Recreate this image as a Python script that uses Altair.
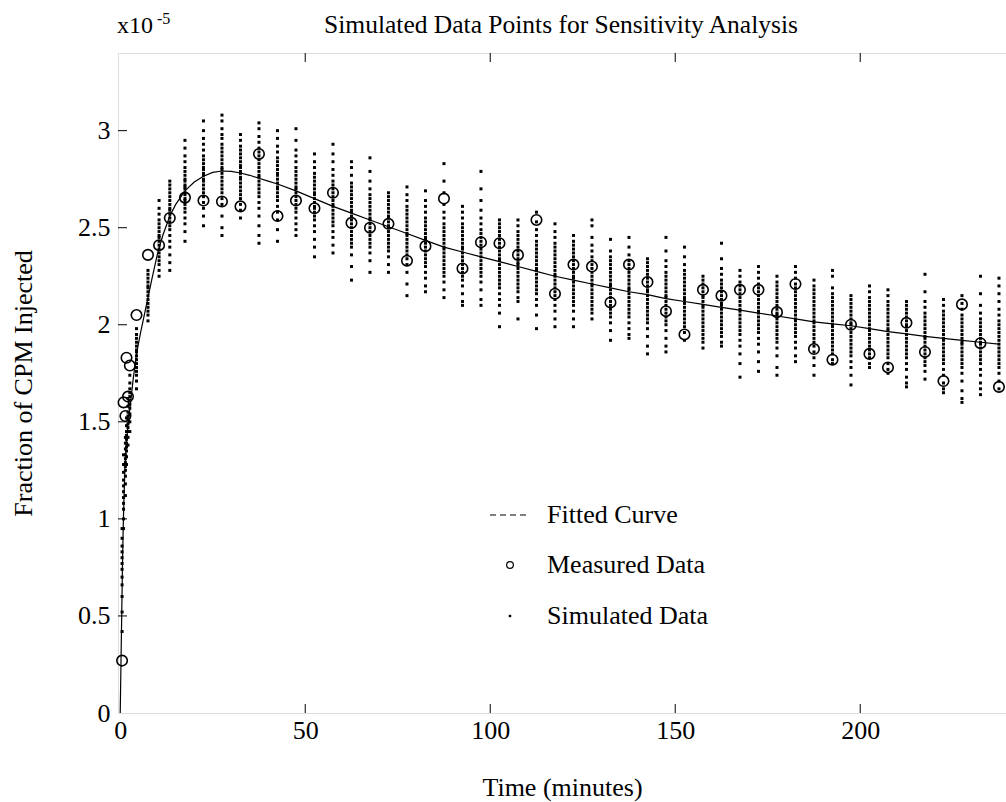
import altair as alt
import pandas as pd

FONT = "Liberation Serif"

# ---------------- data (units of 1e-5) ----------------
fit_t = [0, 0.2, 0.4, 0.6, 0.8, 1.0, 1.3, 1.7, 2.2, 2.8, 3.5, 4.5, 5.5, 6.5, 7.5, 8.5,
         10, 11.5, 13.4, 15, 17.5, 20, 22.5, 25, 27.5, 30, 32.5, 35, 37.5, 40, 42.5,
         47.5, 52.5, 57.5, 62.5, 67.5, 72.5, 77.5, 82.5, 87.5, 92.5, 97.5, 102.5,
         107.5, 112.5, 117.5, 122.5, 127.5, 132.5, 137.5, 142.5, 147.5, 152.5, 157.5,
         162.5, 167.5, 172.5, 177.5, 182.5, 187.5, 192.5, 197.5, 202.5, 207.5, 212.5,
         217.5, 222.5, 227.5, 232.5, 237.5]
fit_v = [0, 0.25, 0.5, 0.75, 0.95, 1.1, 1.27, 1.4, 1.5, 1.6, 1.72, 1.86, 1.96, 2.05, 2.14, 2.23,
         2.36, 2.46, 2.56, 2.62, 2.69, 2.735, 2.765, 2.785, 2.792, 2.79, 2.782, 2.77, 2.755, 2.74, 2.725,
         2.69, 2.65, 2.61, 2.575, 2.54, 2.505, 2.47, 2.435, 2.40, 2.375, 2.35, 2.325,
         2.30, 2.275, 2.25, 2.23, 2.21, 2.19, 2.17, 2.155, 2.135, 2.12, 2.105,
         2.09, 2.075, 2.06, 2.045, 2.03, 2.015, 2.005, 1.995, 1.98, 1.965, 1.953,
         1.94, 1.93, 1.92, 1.91, 1.90]

meas_t = [0.5, 0.9, 1.4, 1.7, 2.1, 2.6, 4.4, 7.5, 10.5, 13.4, 17.5, 22.5, 27.5, 32.5, 37.5,
          42.5, 47.5, 52.5, 57.5, 62.5, 67.5, 72.5, 77.5, 82.5, 87.5, 92.5, 97.5, 102.5,
          107.5, 112.5, 117.5, 122.5, 127.5, 132.5, 137.5, 142.5, 147.5, 152.5, 157.5,
          162.5, 167.5, 172.5, 177.5, 182.5, 187.5, 192.5, 197.5, 202.5, 207.5, 212.5,
          217.5, 222.5, 227.5, 232.5, 237.5]
meas_v = [0.27, 1.60, 1.53, 1.83, 1.63, 1.79, 2.05, 2.36, 2.41, 2.55, 2.655, 2.64, 2.635, 2.61, 2.88,
          2.56, 2.64, 2.60, 2.68, 2.525, 2.50, 2.52, 2.33, 2.405, 2.65, 2.29, 2.425, 2.42,
          2.36, 2.54, 2.16, 2.31, 2.30, 2.115, 2.31, 2.22, 2.07, 1.95, 2.18,
          2.15, 2.18, 2.18, 2.065, 2.21, 1.875, 1.82, 2.00, 1.85, 1.78, 2.01,
          1.86, 1.71, 2.105, 1.905, 1.68]

# simulated values, one column per measured time
sim_cols = [
    [0.95, 0.9, 0.86, 0.83, 0.8, 0.77, 0.74, 0.7, 0.66, 0.6, 0.52, 0.42],
    [1.33, 1.28, 1.24, 1.2, 1.17, 1.14, 1.11, 1.08, 1.05, 1.0, 0.95],
    [1.42, 1.39, 1.36, 1.33, 1.31, 1.29, 1.27, 1.25, 1.22, 1.18, 1.12],
    [1.52, 1.48, 1.45, 1.43, 1.41, 1.39, 1.37, 1.35, 1.32, 1.28],
    [1.62, 1.58, 1.55, 1.53, 1.51, 1.49, 1.47, 1.45, 1.42, 1.38],
    [1.74, 1.70, 1.67, 1.65, 1.63, 1.61, 1.59, 1.57, 1.54, 1.50, 1.45],
    [1.98, 1.95, 1.93, 1.91, 1.89, 1.87, 1.86, 1.84, 1.82, 1.80, 1.78, 1.76, 1.74, 1.71, 1.67],
    [2.28, 2.26, 2.24, 2.22, 2.20, 2.19, 2.17, 2.15, 2.13, 2.11, 2.09, 2.07, 2.05, 2.02],
    [2.64, 2.60, 2.57, 2.54, 2.52, 2.50, 2.48, 2.46, 2.45, 2.43, 2.41, 2.39, 2.37, 2.35, 2.33, 2.31, 2.28, 2.25],
    [2.74, 2.72, 2.70, 2.68, 2.66, 2.64, 2.62, 2.60, 2.59, 2.57, 2.55, 2.53, 2.51, 2.49, 2.46, 2.43, 2.40, 2.36, 2.32, 2.28],
    [2.95, 2.91, 2.87, 2.84, 2.81, 2.79, 2.77, 2.75, 2.74, 2.72, 2.71, 2.70, 2.68, 2.67, 2.65, 2.64, 2.62, 2.60, 2.58, 2.55, 2.52, 2.48, 2.43],
    [3.05, 3.00, 2.96, 2.93, 2.90, 2.87, 2.85, 2.83, 2.81, 2.80, 2.78, 2.77, 2.75, 2.74, 2.72, 2.70, 2.68, 2.66, 2.63, 2.60, 2.56, 2.51],
    [3.08, 3.05, 3.01, 2.98, 2.96, 2.93, 2.91, 2.89, 2.87, 2.85, 2.83, 2.81, 2.80, 2.78, 2.76, 2.74, 2.72, 2.70, 2.68, 2.65, 2.62, 2.56, 2.50, 2.46],
    [2.98, 2.95, 2.92, 2.90, 2.88, 2.86, 2.84, 2.82, 2.81, 2.79, 2.78, 2.76, 2.75, 2.73, 2.71, 2.69, 2.67, 2.65, 2.62, 2.59, 2.55],
    [3.04, 3.01, 2.97, 2.94, 2.91, 2.89, 2.87, 2.85, 2.83, 2.81, 2.79, 2.77, 2.76, 2.74, 2.72, 2.70, 2.68, 2.66, 2.63, 2.60, 2.56, 2.51, 2.46, 2.42],
    [3.00, 2.96, 2.92, 2.89, 2.86, 2.84, 2.82, 2.80, 2.78, 2.77, 2.75, 2.73, 2.71, 2.70, 2.68, 2.66, 2.64, 2.61, 2.58, 2.54, 2.49, 2.43],
    [3.01, 2.95, 2.90, 2.87, 2.84, 2.81, 2.79, 2.77, 2.75, 2.73, 2.71, 2.70, 2.68, 2.66, 2.64, 2.62, 2.60, 2.58, 2.55, 2.52, 2.49, 2.46],
    [2.88, 2.84, 2.81, 2.78, 2.76, 2.74, 2.72, 2.70, 2.68, 2.67, 2.65, 2.63, 2.61, 2.60, 2.58, 2.56, 2.54, 2.51, 2.48, 2.44, 2.40, 2.35],
    [2.93, 2.88, 2.84, 2.80, 2.77, 2.74, 2.72, 2.70, 2.68, 2.66, 2.64, 2.62, 2.61, 2.59, 2.57, 2.55, 2.53, 2.51, 2.48, 2.45, 2.41, 2.37],
    [2.84, 2.81, 2.77, 2.73, 2.71, 2.69, 2.67, 2.65, 2.63, 2.61, 2.59, 2.58, 2.56, 2.54, 2.52, 2.50, 2.48, 2.46, 2.44, 2.42, 2.40, 2.36, 2.30, 2.23],
    [2.86, 2.79, 2.74, 2.70, 2.67, 2.65, 2.63, 2.61, 2.59, 2.57, 2.55, 2.54, 2.52, 2.50, 2.48, 2.46, 2.44, 2.42, 2.40, 2.37, 2.33, 2.27],
    [2.68, 2.66, 2.64, 2.62, 2.60, 2.58, 2.56, 2.55, 2.53, 2.51, 2.50, 2.48, 2.46, 2.44, 2.42, 2.40, 2.38, 2.35, 2.31, 2.27],
    [2.71, 2.67, 2.64, 2.61, 2.59, 2.57, 2.55, 2.53, 2.51, 2.49, 2.47, 2.46, 2.44, 2.42, 2.40, 2.38, 2.36, 2.34, 2.31, 2.27, 2.21, 2.15],
    [2.69, 2.64, 2.61, 2.58, 2.55, 2.53, 2.51, 2.49, 2.47, 2.45, 2.44, 2.42, 2.40, 2.38, 2.36, 2.34, 2.32, 2.30, 2.27, 2.24, 2.20, 2.17],
    [2.83, 2.74, 2.68, 2.62, 2.58, 2.55, 2.52, 2.50, 2.48, 2.46, 2.44, 2.42, 2.40, 2.39, 2.37, 2.35, 2.33, 2.31, 2.29, 2.27, 2.25, 2.22, 2.18, 2.14],
    [2.61, 2.58, 2.55, 2.52, 2.50, 2.48, 2.46, 2.44, 2.42, 2.40, 2.39, 2.37, 2.35, 2.33, 2.31, 2.29, 2.27, 2.25, 2.23, 2.20, 2.16, 2.12, 2.10],
    [2.79, 2.70, 2.64, 2.59, 2.55, 2.52, 2.49, 2.47, 2.45, 2.43, 2.41, 2.39, 2.37, 2.35, 2.33, 2.31, 2.29, 2.27, 2.25, 2.22, 2.18, 2.13, 2.10],
    [2.54, 2.52, 2.50, 2.48, 2.46, 2.44, 2.42, 2.40, 2.38, 2.36, 2.34, 2.33, 2.31, 2.29, 2.27, 2.25, 2.23, 2.21, 2.19, 2.16, 2.13, 2.10, 2.06, 1.99],
    [2.54, 2.51, 2.48, 2.46, 2.44, 2.42, 2.40, 2.38, 2.36, 2.34, 2.32, 2.31, 2.29, 2.27, 2.25, 2.23, 2.21, 2.19, 2.17, 2.14, 2.12, 2.03],
    [2.58, 2.53, 2.49, 2.46, 2.43, 2.41, 2.39, 2.37, 2.35, 2.33, 2.31, 2.29, 2.28, 2.26, 2.24, 2.22, 2.20, 2.18, 2.16, 2.13, 2.10, 2.05, 1.98],
    [2.52, 2.48, 2.45, 2.42, 2.40, 2.38, 2.36, 2.34, 2.32, 2.30, 2.28, 2.26, 2.25, 2.23, 2.21, 2.19, 2.17, 2.15, 2.13, 2.10, 2.07, 2.03, 1.99],
    [2.46, 2.43, 2.41, 2.39, 2.37, 2.35, 2.33, 2.31, 2.29, 2.27, 2.25, 2.24, 2.22, 2.20, 2.18, 2.16, 2.14, 2.12, 2.10, 2.07, 2.03, 1.99],
    [2.54, 2.51, 2.45, 2.41, 2.38, 2.35, 2.33, 2.31, 2.29, 2.27, 2.25, 2.23, 2.21, 2.20, 2.18, 2.16, 2.14, 2.12, 2.10, 2.08, 2.06, 2.03],
    [2.44, 2.38, 2.35, 2.33, 2.31, 2.29, 2.27, 2.25, 2.23, 2.21, 2.20, 2.18, 2.16, 2.14, 2.12, 2.10, 2.08, 2.06, 2.04, 2.01, 1.97, 1.92],
    [2.45, 2.40, 2.36, 2.33, 2.31, 2.29, 2.27, 2.25, 2.23, 2.21, 2.19, 2.18, 2.16, 2.14, 2.12, 2.10, 2.08, 2.06, 2.04, 2.01, 1.98, 1.95, 1.93],
    [2.34, 2.32, 2.30, 2.28, 2.26, 2.24, 2.22, 2.20, 2.18, 2.17, 2.15, 2.13, 2.11, 2.09, 2.07, 2.05, 2.03, 2.01, 1.98, 1.94, 1.89, 1.85],
    [2.45, 2.38, 2.33, 2.30, 2.27, 2.25, 2.23, 2.21, 2.19, 2.17, 2.15, 2.14, 2.12, 2.10, 2.08, 2.06, 2.04, 2.02, 2.00, 1.97, 1.93, 1.89, 1.86],
    [2.40, 2.35, 2.31, 2.28, 2.26, 2.24, 2.22, 2.20, 2.18, 2.16, 2.14, 2.13, 2.11, 2.09, 2.07, 2.05, 2.03, 2.01, 1.99, 1.96, 1.92],
    [2.25, 2.23, 2.21, 2.19, 2.17, 2.15, 2.14, 2.12, 2.10, 2.09, 2.07, 2.05, 2.03, 2.01, 1.99, 1.97, 1.95, 1.93, 1.91, 1.88],
    [2.42, 2.34, 2.29, 2.26, 2.23, 2.21, 2.19, 2.17, 2.15, 2.13, 2.11, 2.10, 2.08, 2.06, 2.04, 2.02, 2.00, 1.98, 1.96, 1.94, 1.91, 1.89],
    [2.28, 2.25, 2.22, 2.20, 2.18, 2.16, 2.14, 2.12, 2.10, 2.08, 2.07, 2.05, 2.03, 2.01, 1.99, 1.97, 1.95, 1.92, 1.89, 1.85, 1.80, 1.73],
    [2.30, 2.27, 2.24, 2.21, 2.19, 2.17, 2.15, 2.13, 2.11, 2.09, 2.07, 2.06, 2.04, 2.02, 2.00, 1.98, 1.96, 1.93, 1.90, 1.86, 1.81, 1.76],
    [2.25, 2.22, 2.20, 2.18, 2.16, 2.14, 2.12, 2.10, 2.08, 2.06, 2.05, 2.03, 2.01, 1.99, 1.97, 1.95, 1.93, 1.91, 1.88, 1.84, 1.78, 1.74],
    [2.30, 2.27, 2.24, 2.21, 2.19, 2.17, 2.15, 2.13, 2.11, 2.09, 2.07, 2.05, 2.03, 2.02, 2.00, 1.98, 1.96, 1.94, 1.91, 1.88, 1.84, 1.81],
    [2.23, 2.20, 2.18, 2.16, 2.14, 2.12, 2.10, 2.08, 2.06, 2.04, 2.02, 2.01, 1.99, 1.97, 1.95, 1.93, 1.91, 1.89, 1.86, 1.83, 1.79, 1.74],
    [2.28, 2.25, 2.19, 2.16, 2.14, 2.12, 2.10, 2.08, 2.06, 2.04, 2.02, 2.00, 1.99, 1.97, 1.95, 1.93, 1.91, 1.89, 1.87, 1.85, 1.82, 1.80],
    [2.15, 2.13, 2.11, 2.09, 2.07, 2.05, 2.03, 2.01, 2.00, 1.98, 1.96, 1.94, 1.92, 1.90, 1.88, 1.86, 1.84, 1.81, 1.78, 1.74, 1.69],
    [2.20, 2.17, 2.14, 2.12, 2.10, 2.08, 2.06, 2.04, 2.02, 2.00, 1.98, 1.97, 1.95, 1.93, 1.91, 1.89, 1.87, 1.85, 1.83, 1.80, 1.78],
    [2.18, 2.15, 2.12, 2.10, 2.08, 2.06, 2.04, 2.02, 2.00, 1.98, 1.97, 1.95, 1.93, 1.91, 1.89, 1.87, 1.85, 1.83, 1.80, 1.77, 1.75],
    [2.12, 2.10, 2.08, 2.06, 2.04, 2.02, 2.00, 1.99, 1.97, 1.95, 1.93, 1.91, 1.89, 1.87, 1.85, 1.83, 1.80, 1.77, 1.73, 1.70, 1.68],
    [2.26, 2.17, 2.12, 2.09, 2.06, 2.04, 2.02, 2.00, 1.98, 1.96, 1.94, 1.93, 1.91, 1.89, 1.87, 1.85, 1.83, 1.81, 1.79, 1.76, 1.72],
    [2.13, 2.10, 2.07, 2.05, 2.03, 2.01, 1.99, 1.97, 1.95, 1.93, 1.92, 1.90, 1.88, 1.86, 1.84, 1.82, 1.80, 1.77, 1.74, 1.70, 1.67, 1.65],
    [2.15, 2.11, 2.08, 2.05, 2.03, 2.01, 1.99, 1.97, 1.95, 1.93, 1.91, 1.90, 1.88, 1.86, 1.84, 1.82, 1.80, 1.78, 1.75, 1.71, 1.66, 1.62, 1.60],
    [2.25, 2.16, 2.10, 2.06, 2.03, 2.01, 1.99, 1.97, 1.95, 1.93, 1.91, 1.90, 1.88, 1.86, 1.84, 1.82, 1.80, 1.77, 1.74, 1.70, 1.67, 1.64],
    [2.24, 2.20, 2.16, 2.12, 2.08, 2.05, 2.02, 2.00, 1.98, 1.96, 1.94, 1.92, 1.90, 1.88, 1.86, 1.84, 1.82, 1.80, 1.78, 1.75, 1.71, 1.67],
]

x_ticks = [0, 50, 100, 150, 200]
y_ticks = [0, 0.5, 1, 1.5, 2, 2.5, 3]
x_inner_ticks = [50, 100, 150, 200]
y_inner_ticks = [0.5, 1, 1.5, 2, 2.5, 3]

legend_labels = ["Fitted Curve", "Measured Data", "Simulated Data"]

# ---------------- tables ----------------
fit_df = pd.DataFrame({"t": fit_t, "v": fit_v})
meas_df = pd.DataFrame({"t": meas_t, "v": meas_v})
sim_rows = [(t, v) for t, col in zip(meas_t, sim_cols) for v in col]
sim_df = pd.DataFrame(sim_rows, columns=["t", "v"])
xt_df = pd.DataFrame({"t": x_inner_ticks})
yt_df = pd.DataFrame({"v": y_inner_ticks})
one = pd.DataFrame({"a": [0]})

W, H = 888, 660
xs = alt.Scale(domain=[-0.6, 239.4], nice=False, zero=False)
ys = alt.Scale(domain=[0, 3.4], nice=False)

x_axis = alt.Axis(values=x_ticks, title="Time (minutes)", ticks=False, tickSize=0,
                  domain=False, grid=False, labelFont=FONT, labelFontSize=26,
                  labelPadding=4, labelColor="black", titleFont=FONT,
                  titleFontSize=26, titleFontWeight="normal", titleColor="black",
                  titlePadding=31, labelFlush=False)
y_axis = alt.Axis(values=y_ticks, title="Fraction of CPM Injected", ticks=False,
                  tickSize=0, domain=False, grid=False, format=".1~f",
                  labelFont=FONT, labelFontSize=26, labelPadding=8,
                  labelColor="black", titleFont=FONT, titleFontSize=26,
                  titleFontWeight="normal", titleColor="black", titlePadding=41,
                  labelFlush=False)

X = alt.X("t:Q", scale=xs, axis=x_axis)
Y = alt.Y("v:Q", scale=ys, axis=y_axis)

sim = alt.Chart(sim_df).mark_square(size=9, color="black", opacity=1).encode(x=X, y=Y)
fit = alt.Chart(fit_df).mark_line(color="black", strokeWidth=1.2).encode(
    x=X, y=Y, order="t:Q")
meas = alt.Chart(meas_df).mark_point(shape="circle", filled=False, size=110,
                                     color="black", strokeWidth=1.6, opacity=1).encode(x=X, y=Y)

tick_bottom = alt.Chart(xt_df).mark_rule(color="black", strokeWidth=1).encode(
    x=X, y=alt.value(H - 9), y2=alt.value(H))
tick_top = alt.Chart(xt_df).mark_rule(color="black", strokeWidth=1).encode(
    x=X, y=alt.value(0), y2=alt.value(9))
tick_left = alt.Chart(yt_df).mark_rule(color="black", strokeWidth=1).encode(
    y=Y, x=alt.value(0), x2=alt.value(9))

# legend (inside the plot)
leg_line = alt.Chart(one).mark_rule(color="black", strokeWidth=1.2, strokeDash=[6, 4]).encode(
    x=alt.value(372), x2=alt.value(410), y=alt.value(462))
leg_circ = alt.Chart(one).mark_point(shape="circle", filled=False, size=45, color="black",
                                     strokeWidth=1.2, opacity=1).encode(
    x=alt.value(392), y=alt.value(512))
leg_dot = alt.Chart(one).mark_square(size=6, color="black", opacity=1).encode(
    x=alt.value(392), y=alt.value(563))
leg_text = [
    alt.Chart(one).mark_text(align="left", baseline="middle", font=FONT, fontSize=26,
                             color="black").encode(
        x=alt.value(429), y=alt.value(yy), text=alt.value(lbl))
    for lbl, yy in zip(legend_labels, [462, 512, 563])
]

exp_main = alt.Chart(one).mark_text(align="left", baseline="alphabetic", font=FONT,
                                    fontSize=24, color="black").encode(
    x=alt.value(-1), y=alt.value(-20), text=alt.value("x10"))
exp_sup = alt.Chart(one).mark_text(align="left", baseline="alphabetic", font=FONT,
                                   fontSize=16, color="black").encode(
    x=alt.value(39), y=alt.value(-29), text=alt.value("-5"))
main_title = alt.Chart(one).mark_text(align="center", baseline="alphabetic", font=FONT,
                                      fontSize=25.5, color="black").encode(
    x=alt.value(443), y=alt.value(-20),
    text=alt.value("Simulated Data Points for Sensitivity Analysis"))

chart = alt.layer(
    sim, fit, meas, tick_bottom, tick_top, tick_left,
    leg_line, leg_circ, leg_dot, *leg_text, exp_main, exp_sup, main_title,
).properties(
    width=W, height=H,
    autosize=alt.AutoSizeParams(type="none"),
    padding={"left": 118, "top": 53, "right": 0, "bottom": 89},
).configure_view(
    stroke="black", strokeWidth=1.2
).configure(background="white")

chart.save("out.html", embed_options={"renderer": "svg", "actions": False})
